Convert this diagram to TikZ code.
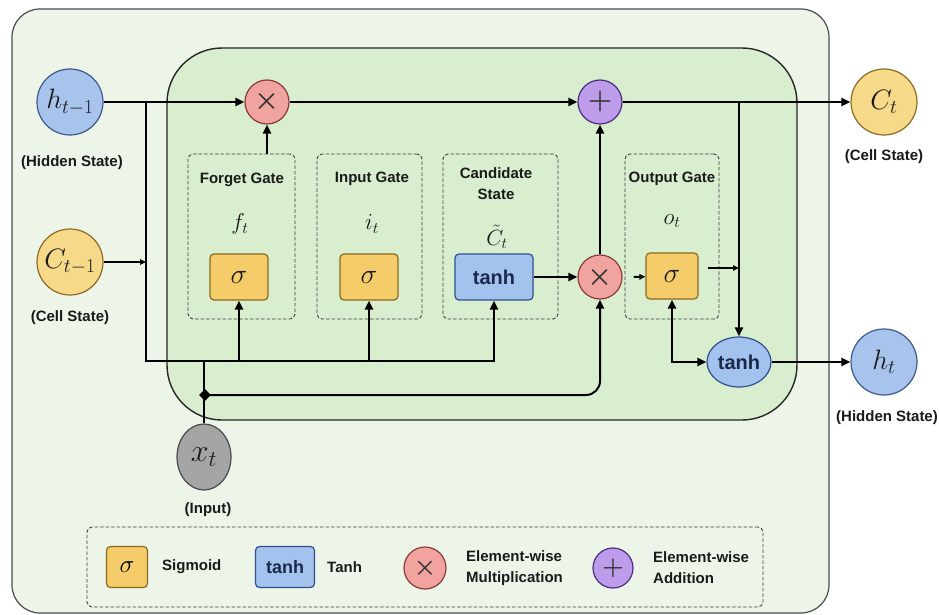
\RequirePackage{fix-cm}
\documentclass[tikz,border=0pt]{standalone}
\usepackage{amsmath}
\usepackage[no-math]{fontspec}
\setmainfont{Liberation Sans}
\usetikzlibrary{arrows.meta,shapes.geometric}
\definecolor{outerbg}{HTML}{EDF5E8}
\definecolor{innerbg}{HTML}{D9EDCF}
\definecolor{hblue}{HTML}{A8C4EC}
\definecolor{hblueline}{HTML}{3C5A8C}
\definecolor{cyel}{HTML}{F7D98A}
\definecolor{cyelline}{HTML}{8C6B24}
\definecolor{sigyel}{HTML}{F4CD6A}
\definecolor{sigyelline}{HTML}{8A6A1C}
\definecolor{tanhblue}{HTML}{A3C2EE}
\definecolor{tanhline}{HTML}{2F4F8F}
\definecolor{tanhtext}{HTML}{1B2A4A}
\definecolor{mulred}{HTML}{F1A3A0}
\definecolor{mulredline}{HTML}{8A3A3A}
\definecolor{addpurple}{HTML}{BC9CEB}
\definecolor{addline}{HTML}{4C2E7E}
\definecolor{xgrey}{HTML}{A5A5A5}
\definecolor{xgreyline}{HTML}{4A4A4A}
\definecolor{txtdark}{HTML}{1A1A1A}
\begin{document}
\begin{tikzpicture}[x=1pt,y=1pt,>={Triangle[length=9pt,width=8pt]}]
			\tikzstyle{every node}+=[inner sep=0pt]
			\tikzstyle{statecirc}=[circle,minimum size=66pt,line width=1.2pt]
			\tikzstyle{gatebox}=[draw=black!75,dash pattern=on 3.5pt off 2pt,line width=0.9pt,rounded corners=5pt]
			\tikzstyle{actbox}=[rectangle,rounded corners=4pt,line width=1.2pt,minimum height=46pt]
			\tikzstyle{opcirc}=[circle,minimum size=44pt,line width=1.2pt]
			\tikzstyle{lbl}=[font=\fontsize{15}{18}\selectfont\bfseries,text=txtdark]
			\tikzstyle{tanhlbl}=[font=\fontsize{20}{20}\selectfont\bfseries,text=tanhtext]
			\tikzstyle{bigsym}=[font=\fontsize{28}{28}\selectfont,text=txtdark]
			\tikzstyle{gatesym}=[font=\fontsize{23}{23}\selectfont,text=txtdark]
			\tikzstyle{sigsym}=[font=\fontsize{28}{28}\selectfont,text=txtdark]
			\tikzstyle{opsym}=[font=\fontsize{28}{28}\selectfont\boldmath,text=black!80]
			\tikzstyle{flow}=[line width=2pt,->]
			\tikzstyle{wire}=[line width=2pt]
			\tikzstyle{smallhead}=[>={Triangle[length=6pt,width=5.5pt]}]
			\useasboundingbox (0,0) rectangle (939,-615);
			\fill [white] (0,0) rectangle (939,-615);
			\draw [draw=black!70,line width=1.2pt,fill=outerbg,rounded corners=28pt] (12,-9) rectangle (829,-613);
			\draw [draw=black!85,line width=1.4pt,fill=innerbg,rounded corners=55pt] (167,-48) rectangle (797,-420);
			\node [statecirc,fill=hblue,draw=hblueline,bigsym] (hprev) at (70,-102) {$h_{t-1}$};
			\node [lbl] (hprevlbl) at (72,-163) {(Hidden State)};
			\node [statecirc,fill=cyel,draw=cyelline,bigsym] (cprev) at (70,-262) {$C_{t-1}$};
			\node [lbl] (cprevlbl) at (70,-318) {(Cell State)};
			\node [statecirc,fill=cyel,draw=cyelline,bigsym] (ct) at (884,-102) {$C_t$};
			\node [lbl] (ctlbl) at (884,-157) {(Cell State)};
			\node [statecirc,fill=hblue,draw=hblueline,bigsym] (ht) at (884,-362) {$h_t$};
			\node [lbl] (htlbl) at (887,-418) {(Hidden State)};
			\node [ellipse,fill=xgrey,draw=xgreyline,line width=1.2pt,minimum width=54pt,minimum height=66pt,font=\fontsize{32}{32}\selectfont,text=txtdark] (xt) at (204,-457) {$x_t$};
			\node [lbl] (xtlbl) at (208,-510) {(Input)};
			\node [gatebox,minimum width=107pt,minimum height=165pt] (fgate) at (241.5,-236.5) {};
			\node [gatebox,minimum width=105pt,minimum height=165pt] (igate) at (369.5,-236.5) {};
			\node [gatebox,minimum width=115pt,minimum height=165pt] (cgate) at (500.5,-236.5) {};
			\node [gatebox,minimum width=94pt,minimum height=165pt] (ogate) at (672,-236.5) {};
			\node [lbl] (ftitle) at (242,-180) {Forget Gate};
			\node [gatesym] (fsym) at (240,-224) {$f_t$};
			\node [lbl] (ititle) at (372,-179) {Input Gate};
			\node [gatesym] (isym) at (372,-224) {$i_t$};
			\node [lbl,align=center,font=\fontsize{15}{21}\selectfont\bfseries] (ctitle) at (496,-184) {Candidate\\State};
			\node [gatesym,font=\fontsize{22}{22}\selectfont] (csym) at (497,-237) {$\tilde{C}_t$};
			\node [lbl] (otitle) at (672,-179) {Output Gate};
			\node [gatesym] (osym) at (672,-221) {$o_t$};
			\node [actbox,fill=sigyel,draw=sigyelline,minimum width=58pt,sigsym] (fsig) at (239,-277) {$\sigma$};
			\node [actbox,fill=sigyel,draw=sigyelline,minimum width=58pt,sigsym] (isig) at (369,-277) {$\sigma$};
			\node [actbox,fill=tanhblue,draw=tanhline,minimum width=78pt,tanhlbl] (ctanh) at (494,-277) {tanh};
			\node [actbox,fill=sigyel,draw=sigyelline,minimum width=52pt,sigsym] (osig) at (672,-276) {$\sigma$};
			\node [opcirc,fill=mulred,draw=mulredline,opsym] (fmul) at (267,-102) {$\times$};
			\node [opcirc,fill=addpurple,draw=addline,opsym] (add) at (600,-102) {$+$};
			\node [opcirc,fill=mulred,draw=mulredline,opsym] (mul2) at (600,-277) {$\times$};
			\node [ellipse,fill=tanhblue,draw=tanhline,line width=1.2pt,minimum width=64pt,minimum height=50pt,tanhlbl] (otanh) at (739,-362) {tanh};
			\node [diamond,fill=black,minimum size=12pt] (xjoin) at (205,-395) {};
			\coordinate (hjoin) at (146,-102);
			\coordinate (cjoin) at (146,-262);
			\coordinate (bjoin) at (146,-361);
			\coordinate (ojoin) at (739,-102);
			\coordinate (oout) at ([xshift=9pt,yshift=8pt]osig.east);
			\draw [flow] (hprev) -- (fmul);
			\draw [flow] (hjoin) -- (bjoin) -| (ctanh);
			\draw [flow] (fsig.south |- bjoin) -- (fsig);
			\draw [flow] (isig.south |- bjoin) -- (isig);
			\draw [flow,smallhead] (cprev) -- (cjoin);
			\draw [wire] (xt) -- (xt |- bjoin);
			\draw [flow,rounded corners=14pt] (xjoin.center) -| (mul2);
			\draw [flow] (fgate.north -| fmul) -- (fmul);
			\draw [flow] (fmul) -- (add);
			\draw [flow] (add) -- (ct);
			\draw [flow] (ctanh) -- (mul2);
			\draw [flow] (mul2) -- (add);
			\draw [flow,smallhead] ([xshift=11pt]mul2.east) -- (osig);
			\draw [flow,smallhead] (oout) -- (oout -| ojoin);
			\draw [flow] (ojoin) -- (otanh);
			\draw [flow,<->] (osig.south) |- (otanh.west);
			\draw [flow] (otanh) -- (ht);
			\node [gatebox,minimum width=676pt,minimum height=80pt] (legend) at (425,-567) {};
			\node [actbox,fill=sigyel,draw=sigyelline,minimum width=41pt,minimum height=41pt,font=\fontsize{25}{25}\selectfont] (lsig) at (127,-567) {$\sigma$};
			\node [lbl,anchor=west] (lsigtxt) at (162,-567) {Sigmoid};
			\node [actbox,fill=tanhblue,draw=tanhline,minimum width=59pt,minimum height=41pt,tanhlbl,font=\fontsize{18}{18}\selectfont\bfseries] (ltanh) at (285,-567) {tanh};
			\node [lbl,anchor=west] (ltanhtxt) at (327,-567) {Tanh};
			\node [opcirc,fill=mulred,draw=mulredline,minimum size=42pt,opsym,font=\fontsize{25}{25}\selectfont\boldmath] (lmul) at (425,-568) {$\times$};
			\node [lbl,anchor=west,align=left,font=\fontsize{15}{21}\selectfont\bfseries] (lmultxt) at (466,-568) {Element-wise\\Multiplication};
			\node [opcirc,fill=addpurple,draw=addline,minimum size=40pt,opsym,font=\fontsize{25}{25}\selectfont\boldmath] (ladd) at (613,-568) {$+$};
			\node [lbl,anchor=west,align=left,font=\fontsize{15}{21}\selectfont\bfseries] (laddtxt) at (653,-568) {Element-wise\\Addition};
\end{tikzpicture}
\end{document}
